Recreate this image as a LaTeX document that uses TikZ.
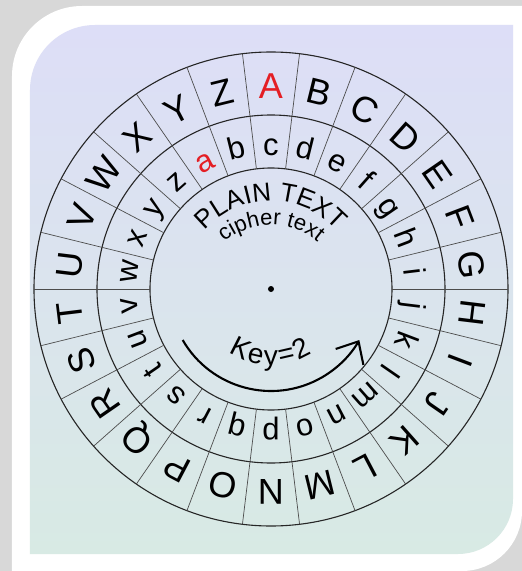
\documentclass[tikz,border=0pt]{standalone}
\usepackage{fontspec}
\setmainfont{Liberation Sans}
\usetikzlibrary{arrows.meta, decorations.text, calc}

\definecolor{keyred}{RGB}{228,30,36}
\definecolor{paneltop}{RGB}{221,222,247}
\definecolor{panelbot}{RGB}{216,234,228}
\definecolor{shadowgray}{RGB}{216,216,216}

\begin{document}
\begin{tikzpicture}[
  x=1pt, y=1pt,
  ring/.style={draw=black!85, line width=1.1pt},
  spoke/.style={draw=black!70, line width=0.7pt},
  upper/.style={anchor=base, inner sep=0pt, font=\fontsize{36}{36}\selectfont},
  lower/.style={anchor=base, inner sep=0pt, font=\fontsize{31}{31}\selectfont},
  keychar/.style={anchor=base, inner sep=0pt, font=\fontsize{28}{28}\selectfont},
  arctext/.style={decorate, decoration={text along path, text align=center, text={#1}}},
  arrow/.style={-{Straight Barb[length=18pt, width=32pt]}, line width=2.1pt}
]
\useasboundingbox (-271,-282) rectangle (251,289);

\fill[shadowgray] (-271,-282) rectangle (251,289);
\fill[white] (-259,-282) -- (-259,213) arc (180:90:70) -- (251,283)
  -- (251,-222) arc (0:-90:60) -- cycle;
\shade[top color=paneltop, bottom color=panelbot] (-241,-265) -- (-241,199)
  arc (180:90:65) -- (242,264) -- (242,-210) arc (0:-90:55) -- cycle;

\coordinate (hub) at (0,0);
\draw[ring] (hub) circle (237) (hub) circle (174) (hub) circle (121);
\foreach \k in {0,...,25}
  \draw[spoke] ($(hub)+(\k*360/26:121)$) -- ($(hub)+(\k*360/26:237)$);
\fill (hub) circle (3);

\node[upper, text=keyred] (up-A) at (90:190) {A};
\foreach \L [count=\i] in {B,...,Z}
  \node[upper, rotate={-\i*360/26}] (up-\L) at ({90-\i*360/26}:190) {\L};

\node[lower, text=keyred, rotate={2*360/26}] (lo-a) at ({90+2*360/26}:134) {a};
\foreach \L [count=\j] in {b,...,z}
  \node[lower, rotate={(2-\j)*360/26}] (lo-\L) at ({90+(2-\j)*360/26}:134) {\L};

\path[arctext={|\fontsize{26}{26}\selectfont|PLAIN TEXT}] (150:88) arc (150:30:88);
\path[arctext={|\fontsize{22}{22}\selectfont|cipher text}] ($(hub)+(0,-8)+(150:72)$) arc (150:30:72);
\foreach \c/\a [count=\n] in {K/243, e/257, y/270, =/283, 2/297}
  \node[keychar, rotate=\a+90] (key-\n) at (\a:76) {\c};
\draw[arrow] (210:102) arc (210:330:102);
\end{tikzpicture}
\end{document}
